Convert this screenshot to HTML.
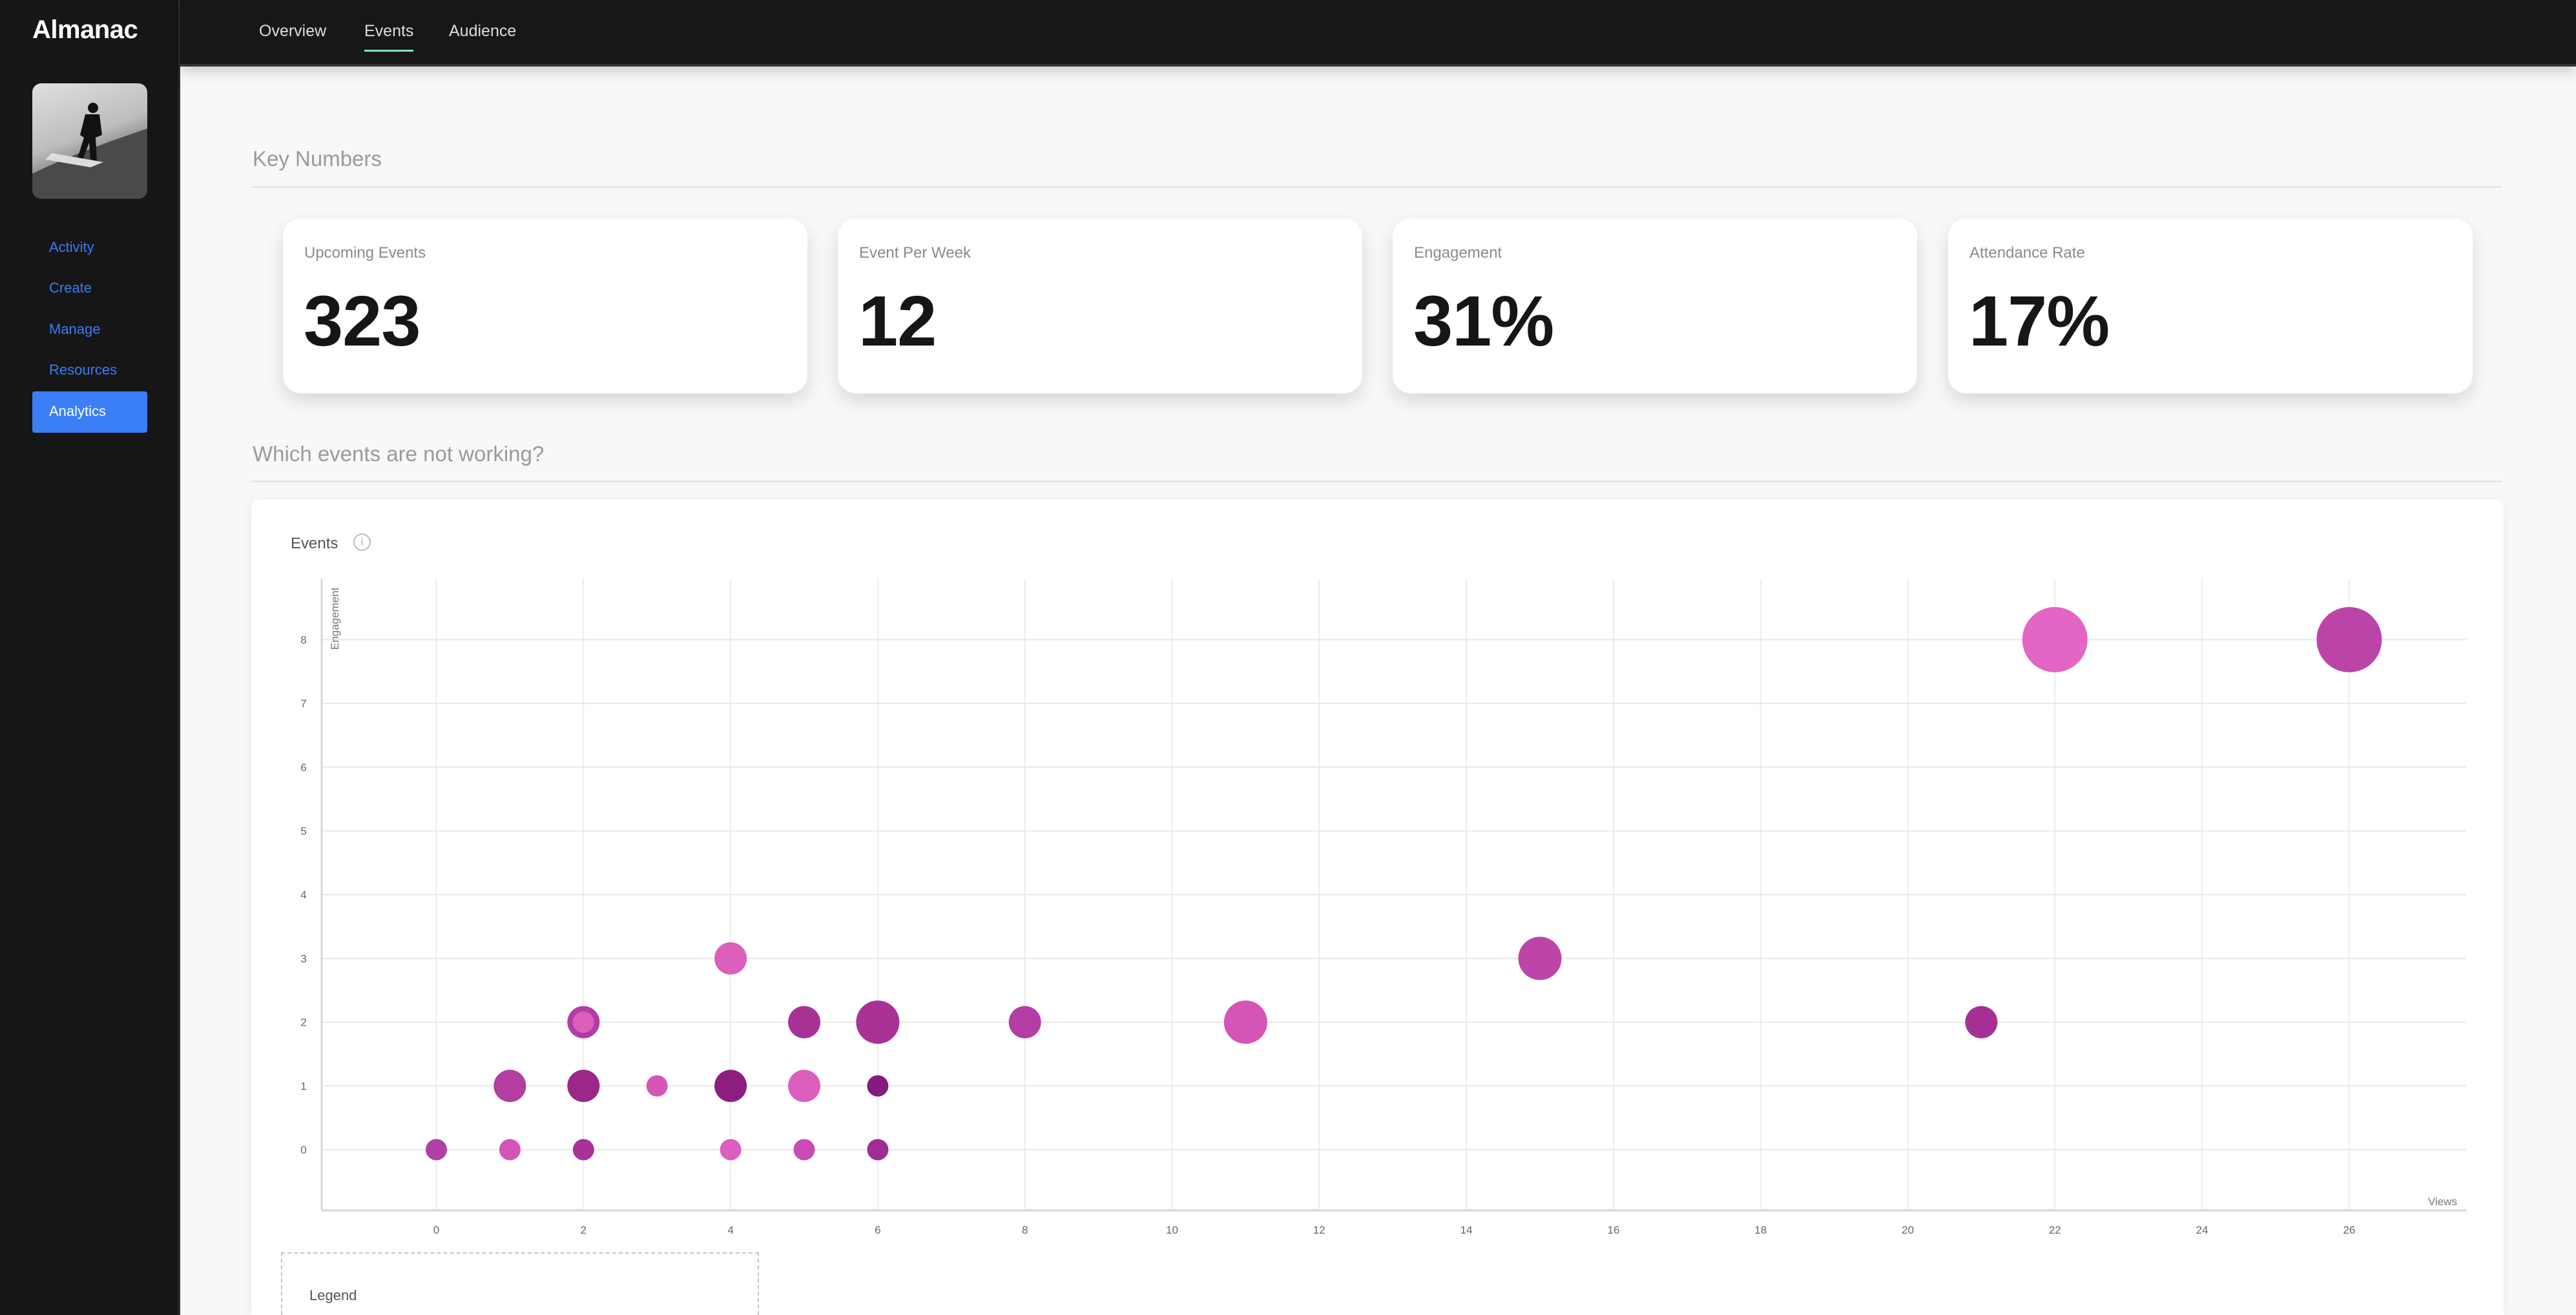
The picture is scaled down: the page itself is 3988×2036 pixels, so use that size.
<!DOCTYPE html>
<html style="width:3988px;height:2036px;overflow:hidden"><head><meta charset="utf-8">
<style>
*{margin:0;padding:0;box-sizing:border-box}
body{width:3988px;height:2036px;overflow:hidden;background:#f8f8f8;font-family:"Liberation Sans",sans-serif;position:relative}
.abs{position:absolute}
#sidebar{left:0;top:0;width:279px;height:2036px;background:#161616;border-right:3px solid #2a2a2a}
#topbar{left:279px;top:0;width:3709px;height:103px;background:#171717;box-shadow:0 8px 20px rgba(0,0,0,.18);border-bottom:4px solid #333}
.nav{top:34px;font-size:25px;color:#ddd}
.side{left:76px;font-size:22px;color:#3b7cf5}
.card{width:812px;height:271px;top:338px;background:#fff;border-radius:28px;box-shadow:0 12px 28px rgba(0,0,0,.13)}
.card .lbl{position:absolute;left:33px;top:40px;font-size:24px;color:#8a8a8a}
.card .num{position:absolute;left:32px;top:96px;font-size:110px;font-weight:bold;color:#161616;letter-spacing:-1px}
.h{left:391px;font-size:33px;color:#9a9a9a}
.rule{left:389px;width:3484px;height:3px;background:#e6e6e6}
</style></head><body>
<div id="sidebar" class="abs">
  <div class="abs" style="left:50px;top:24px;font-size:40px;color:#fff;font-weight:bold;letter-spacing:-0.5px">Almanac</div>
  <div class="abs" style="left:50px;top:129px;width:178px;height:179px;border-radius:14px;overflow:hidden;background:linear-gradient(160deg,#e0e0e0 0%,#bdbdbd 45%,#6d6d6d 70%,#3e3e3e 100%)">
    <svg width="178" height="179"><path d="M0 140 Q60 110 178 70 L178 179 L0 179Z" fill="#4a4a4a"/><circle cx="94" cy="38" r="8" fill="#111"/><path d="M82 48 L104 48 L108 80 L98 84 L100 120 L90 118 L88 92 L78 118 L70 116 L80 84 L74 80Z" fill="#111"/><path d="M30 108 L110 122 L90 130 L20 118Z" fill="#ddd"/></svg>
  </div>
  <div class="abs side" style="top:370px">Activity</div>
  <div class="abs side" style="top:433px">Create</div>
  <div class="abs side" style="top:497px">Manage</div>
  <div class="abs side" style="top:560px">Resources</div>
  <div class="abs" style="left:50px;top:606px;width:178px;height:64px;background:#3a7ff6;border-radius:4px;color:#fff;font-size:22px;padding:18px 0 0 26px">Analytics</div>
</div>
<div id="topbar" class="abs"></div>
<div class="abs nav" style="left:401px">Overview</div>
<div class="abs nav" style="left:564px">Events</div>
<div class="abs" style="left:564px;top:77px;width:76px;height:3px;background:#7ee8c4"></div>
<div class="abs nav" style="left:695px">Audience</div>

<div class="abs h" style="top:227px">Key Numbers</div>
<div class="abs rule" style="top:288px"></div>
<div class="abs card" style="left:438px"><div class="lbl">Upcoming Events</div><div class="num">323</div></div>
<div class="abs card" style="left:1297px"><div class="lbl">Event Per Week</div><div class="num">12</div></div>
<div class="abs card" style="left:2156px"><div class="lbl">Engagement</div><div class="num">31%</div></div>
<div class="abs card" style="left:3016px"><div class="lbl">Attendance Rate</div><div class="num">17%</div></div>

<div class="abs h" style="top:684px">Which events are not working?</div>
<div class="abs rule" style="top:744px"></div>

<div class="abs" style="left:389px;top:773px;width:3487px;height:1263px;background:#fff;border-radius:12px 12px 0 0;box-shadow:0 4px 18px rgba(0,0,0,.07)"></div>
<div class="abs" style="left:450px;top:828px;font-size:24px;color:#555">Events</div>
<div class="abs" style="left:547px;top:826px;width:27px;height:27px;border:2px solid #bbb;border-radius:50%;color:#aaa;font-size:16px;text-align:center;line-height:23px">i</div>

<svg id="chart" class="abs" style="left:0;top:0" width="3988" height="2036"></svg>

<div class="abs" style="left:435px;top:1939px;width:740px;height:97px;border:2px dashed #c4c4c4;border-bottom:none">
  <div class="abs" style="left:42px;top:52px;font-size:22px;color:#555">Legend</div>
</div>

<script>
const xTicks=[0,2,4,6,8,10,12,14,16,18,20,22,24,26];
const yTicks=[0,1,2,3,4,5,6,7,8];
const views=[0,1,2,4,5,6,1,2,3,4,5,6,2,2,4,5,6,8,11,15,21,22,26];
const engagement=[0,0,0,0,0,0,1,1,1,1,1,1,2,2,3,2,2,2,2,3,2,8,8];
const sizes=[1,1,1,1,1,1,2,2,1,2,2,1,2,1,2,2,3,2,3,3,2,5,5];
const colors=["#b13fa6","#d454b8","#a83296","#dc5fbe","#c94bb4","#a02d94","#b33da0","#9b2788","#d656b8","#8c1e80","#dc5fbe","#861a7c","#b13da4","#dc5fbe","#dc5fbe","#a83296","#a83296","#b33da4","#d454b8","#bd45a8","#a62f94","#e466c4","#bb44a8"];
const NS="http://www.w3.org/2000/svg";
const svg=document.getElementById('chart');
const L=498,R=3818,T=896,B=1874;
const X0=675.5,XU=113.9,Y0=1780,YU=98.7;
function sx(v){return X0+v*XU;}
function sy(v){return Y0-v*YU;}
function sr(s){return 8.5*s+8;}
function mk(tag,attrs){const e=document.createElementNS(NS,tag);for(const k in attrs)e.setAttribute(k,attrs[k]);svg.appendChild(e);return e;}
xTicks.forEach(t=>{
  const g=mk('line',{x1:sx(t),x2:sx(t),y1:T,y2:B,stroke:'#ececec','stroke-width':2});
  
  
  const tx=mk('text',{x:sx(t),y:1910,'text-anchor':'middle','font-size':17,fill:'#666','font-family':'Liberation Sans, sans-serif'});
  tx.textContent=t;
  
  
});
yTicks.forEach(t=>{
  const g=mk('line',{x1:L,x2:R,y1:sy(t),y2:sy(t),stroke:'#e8e8e8','stroke-width':2});
  
  
  const tx=mk('text',{x:470,y:sy(t)+6,'text-anchor':'middle','font-size':17,fill:'#666','font-family':'Liberation Sans, sans-serif'});
  tx.textContent=t;
  
  
});
const ya=mk('line',{x1:L,x2:L,y1:T,y2:B,stroke:'#d8d8d8','stroke-width':3});


const xa=mk('line',{x1:L,x2:R,y1:B,y2:B,stroke:'#dedede','stroke-width':4});


const yt=mk('text',{x:0,y:0,transform:'translate(524,1006) rotate(-90)','font-size':17,fill:'#777','font-family':'Liberation Sans, sans-serif'});
yt.textContent='Engagement';


const xt=mk('text',{x:3804,y:1866,'text-anchor':'end','font-size':17,fill:'#777','font-family':'Liberation Sans, sans-serif'});
xt.textContent='Views';


const order=views.map((v,i)=>i).sort((a,b)=>sizes[b]-sizes[a]);
order.forEach(i=>{
  const c=mk('circle',{cx:sx(views[i]),cy:sy(engagement[i]),r:sr(sizes[i]),fill:colors[i]});
  
  
});
</script>
</body></html>
